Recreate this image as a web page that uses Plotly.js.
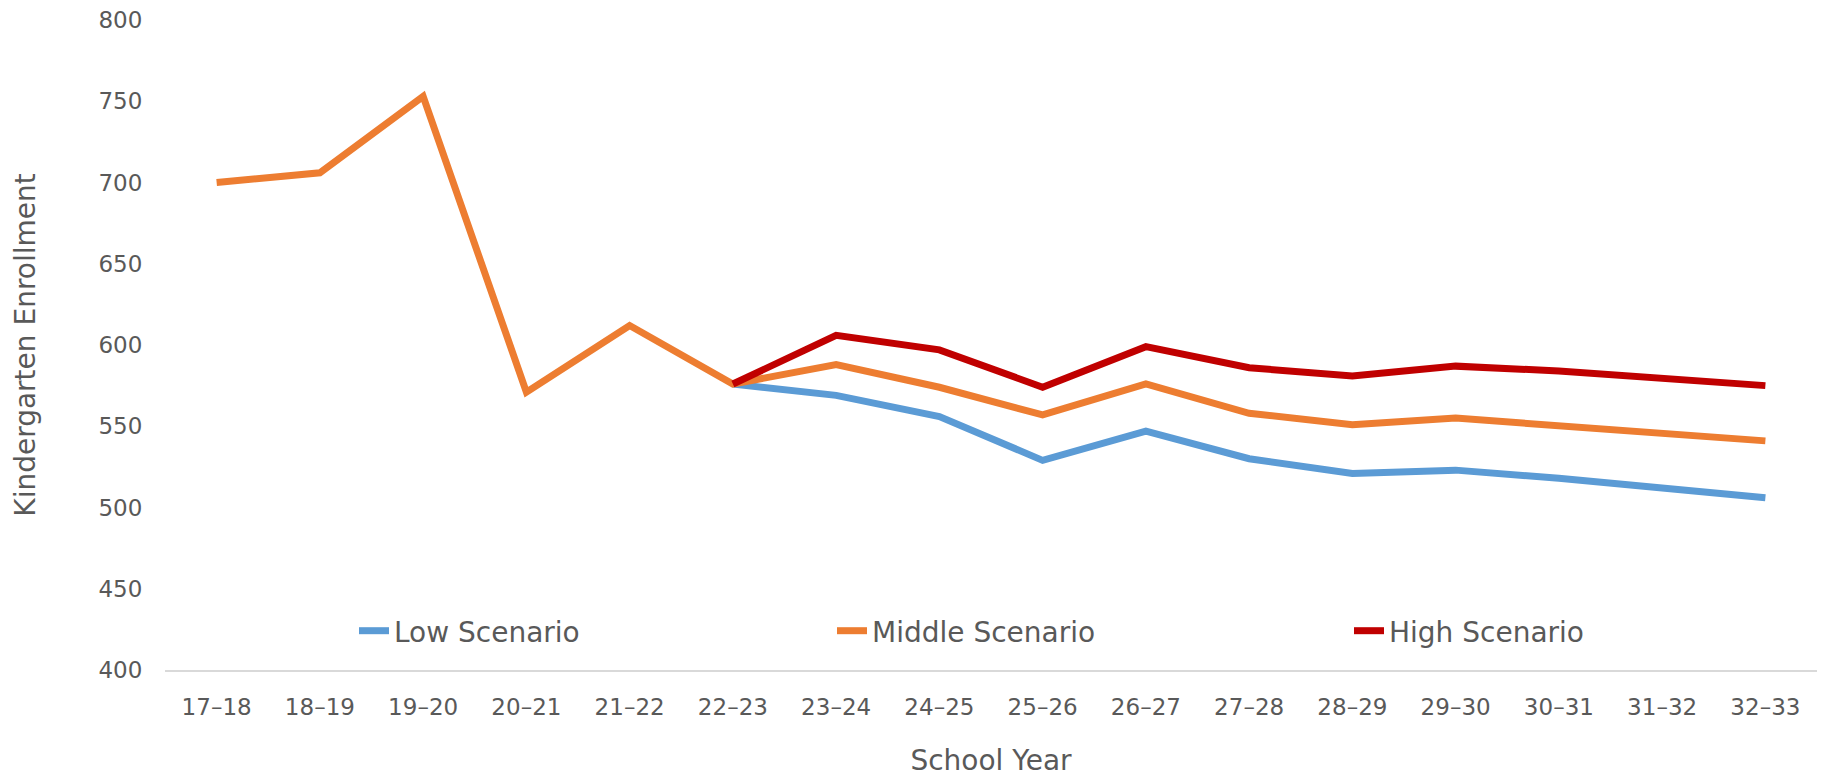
<!DOCTYPE html>
<html>
<head>
<meta charset="utf-8">
<script src="https://cdn.plot.ly/plotly-3.0.1.min.js"></script>
<style>
  html, body { margin: 0; padding: 0; background: #ffffff; }
  #chart { width: 1833px; height: 777px; }
</style>
</head>
<body>
<div id="chart"></div>
<script>
// School years (category axis)
const schoolYears = ["17–18","18–19","19–20","20–21","21–22","22–23","23–24","24–25","25–26","26–27","27–28","28–29","29–30","30–31","31–32","32–33"];

// Scenario values (null where the scenario is not drawn)
const lowScenario    = [null, null, null, null, null, 576, 569, 556, 529, 547, 530, 521, 523, 518, 512, 506];
const middleScenario = [700, 706, 753, 571, 612, 576, 588, 574, 557, 576, 558, 551, 555, 550, 546, 541];
const highScenario   = [null, null, null, null, null, 576, 606, 597, 574, 599, 586, 581, 587, 584, 579, 575];

const seriesNames = ["Low Scenario", "Middle Scenario", "High Scenario"];
const seriesColors = ["#5B9BD5", "#ED7D31", "#C00000"];
const legendWidths = [433, 472, 300];

const FONT = "'DejaVu Sans', 'Open Sans', sans-serif";
const GREY = "#595959";

const traces = [lowScenario, middleScenario, highScenario].map((vals, i) => ({
  type: "scatter",
  mode: "lines",
  name: seriesNames[i],
  x: schoolYears,
  y: vals,
  line: { color: seriesColors[i], width: 7, shape: "linear" },
  connectgaps: false,
  legendwidth: legendWidths[i],
  hoverinfo: "x+y+name"
}));

const layout = {
  width: 1833,
  height: 777,
  margin: { l: 165, r: 16, t: 20, b: 107, pad: 0 },
  paper_bgcolor: "#ffffff",
  plot_bgcolor: "#ffffff",
  font: { family: FONT, color: GREY, size: 23 },
  showlegend: true,
  legend: {
    orientation: "h",
    x: 0.1144,
    xanchor: "left",
    y: 0.06,
    yanchor: "middle",
    entrywidthmode: "pixels",
    bgcolor: "rgba(0,0,0,0)",
    font: { family: FONT, color: GREY, size: 28 },
    traceorder: "normal",
    itemwidth: 30
  },
  xaxis: {
    type: "category",
    categoryorder: "array",
    categoryarray: schoolYears,
    range: [-0.5, schoolYears.length - 0.5],
    showgrid: false,
    zeroline: false,
    showline: true,
    linecolor: "#D9D9D9",
    linewidth: 2,
    ticks: "outside",
    ticklen: 15,
    tickcolor: "rgba(0,0,0,0)",
    tickfont: { family: FONT, color: GREY, size: 23 },
    title: { text: "School Year", font: { family: FONT, color: GREY, size: 28 }, standoff: 34 },
    automargin: false,
    fixedrange: true
  },
  yaxis: {
    range: [400, 800],
    tickmode: "array",
    tickvals: [400, 450, 500, 550, 600, 650, 700, 750, 800],
    showgrid: false,
    zeroline: false,
    showline: false,
    ticks: "outside",
    ticklen: 17,
    tickcolor: "rgba(0,0,0,0)",
    tickfont: { family: FONT, color: GREY, size: 23 },
    title: { text: "Kindergarten Enrollment", font: { family: FONT, color: GREY, size: 28 }, standoff: 54 },
    automargin: false,
    fixedrange: true
  }
};

Plotly.newPlot("chart", traces, layout, { displayModeBar: false, responsive: false });
</script>
</body>
</html>
